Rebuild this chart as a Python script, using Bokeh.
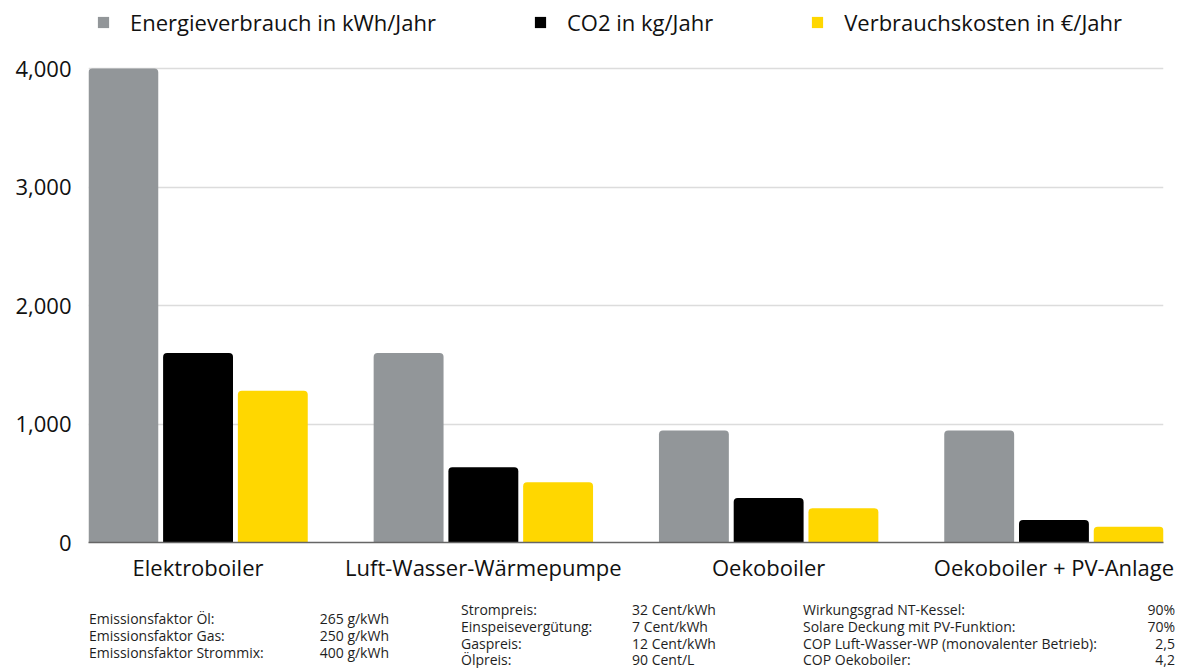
from bokeh.plotting import figure
from bokeh.layouts import column
from bokeh.models import (ColumnDataSource, Range1d, FixedTicker, NumeralTickFormatter,
                          Legend, LegendItem, Div)
from bokeh.transform import dodge
from bokeh.embed import file_html
from bokeh.resources import INLINE

categories = ["Elektroboiler", "Luft-Wasser-Wärmepumpe", "Oekoboiler", "Oekoboiler + PV-Anlage"]
energie = [4000, 1600, 945, 945]
co2 = [1600, 636, 375, 190]
kosten = [1280, 508, 290, 132]
series_names = ["Energieverbrauch in kWh/Jahr", "CO2 in kg/Jahr", "Verbrauchskosten in €/Jahr"]
series_colors = ["#929699", "#000000", "#FFD700"]
y_ticks = [0, 1000, 2000, 3000, 4000]

notes1_labels = ["Emissionsfaktor Öl:", "Emissionsfaktor Gas:", "Emissionsfaktor Strommix:"]
notes1_values = ["265 g/kWh", "250 g/kWh", "400 g/kWh"]
notes2_labels = ["Strompreis:", "Einspeisevergütung:", "Gaspreis:", "Ölpreis:"]
notes2_values = ["32 Cent/kWh", "7 Cent/kWh", "12 Cent/kWh", "90 Cent/L"]
notes3_labels = ["Wirkungsgrad NT-Kessel:", "Solare Deckung mit PV-Funktion:",
                 "COP Luft-Wasser-WP (monovalenter Betrieb):", "COP Oekoboiler:"]
notes3_values = ["90%", "70%", "2,5", "4,2"]

FONT = "Open Sans"
FS = "22px"

src = ColumnDataSource(dict(x=list(range(len(categories))), e=energie, c=co2, k=kosten))

# frame spans from the canvas top (legend lives inside the frame above the 4000 line)
frame_h = 542
px_per_unit = 474 / 4000
y_top = frame_h / px_per_unit

p = figure(width=1193, height=590,
           min_border_left=88, min_border_right=30, min_border_top=0, min_border_bottom=48,
           x_range=Range1d(-0.384, len(categories) - 1 + 0.384), y_range=Range1d(0, y_top),
           output_backend="svg", toolbar_location=None, tools="")
p.outline_line_color = None

w = 0.245
renderers = []
for col, off, color in zip(["e", "c", "k"], [-0.262, 0.0, 0.262], series_colors):
    r = p.vbar(x=dodge("x", off), top=col, width=w, bottom=0, source=src,
               fill_color=color, line_color=color, line_width=0,
               border_radius=(4, 4, 0, 0))
    renderers.append(r)

p.xgrid.grid_line_color = None
p.ygrid.grid_line_color = "#dcdcdc"
p.ygrid.grid_line_width = 1.5
p.yaxis.ticker = FixedTicker(ticks=y_ticks)
p.yaxis.formatter = NumeralTickFormatter(format="0,0")
p.yaxis.axis_line_color = None
p.yaxis.major_tick_line_color = None
p.yaxis.minor_tick_line_color = None
p.yaxis.major_label_text_font = FONT
p.yaxis.major_label_text_font_size = FS
p.yaxis.major_label_text_color = "#111111"
p.yaxis.major_label_standoff = 11

p.xaxis.ticker = FixedTicker(ticks=list(range(len(categories))))
p.xaxis.major_label_overrides = {i: c for i, c in enumerate(categories)}
p.xaxis.axis_line_color = "#666666"
p.xaxis.axis_line_width = 1.5
p.xaxis.major_tick_line_color = None
p.xaxis.minor_tick_line_color = None
p.xaxis.major_label_text_font = FONT
p.xaxis.major_label_text_font_size = FS
p.xaxis.major_label_text_color = "#111111"
p.xaxis.major_label_standoff = 3

legend = Legend(items=[LegendItem(label=n, renderers=[r]) for n, r in zip(series_names, renderers)],
                orientation="horizontal", location=(8, 505),
                label_text_font=FONT, label_text_font_size=FS, label_text_color="#111111",
                glyph_width=14, glyph_height=14, label_height=22, label_standoff=20, spacing=97,
                padding=0, margin=0, border_line_color=None, background_fill_alpha=0)
p.add_layout(legend, "center")

# notes below the chart (HTML text)
LH = 16

def block(labels, values, lx, vx, valign, y0, dy):
    out = []
    for i, (lab, val) in enumerate(zip(labels, values)):
        top = round(y0 + i * dy - LH / 2, 1)
        out.append(f'<div style="position:absolute;left:{lx}px;top:{top}px;white-space:nowrap;">{lab}</div>')
        if valign == "right":
            out.append(f'<div style="position:absolute;right:{1193 - vx}px;top:{top}px;white-space:nowrap;">{val}</div>')
        else:
            out.append(f'<div style="position:absolute;left:{vx}px;top:{top}px;white-space:nowrap;">{val}</div>')
    return "".join(out)

html = (f'<div style="position:relative;width:1193px;height:78px;font-family:\'{FONT}\';'
        f'font-size:14px;line-height:{LH}px;color:#1e1e1e;">'
        + block(notes1_labels, notes1_values, 89, 389, "right", 29, 16.8)
        + block(notes2_labels, notes2_values, 461, 632, "left", 20, 16.8)
        + block(notes3_labels, notes3_values, 803, 1175, "right", 20, 16.8)
        + '</div>')
notes = Div(text=html, width=1193, height=78, margin=0)

open("out.html", "w").write(file_html(column(p, notes, spacing=0), INLINE))
